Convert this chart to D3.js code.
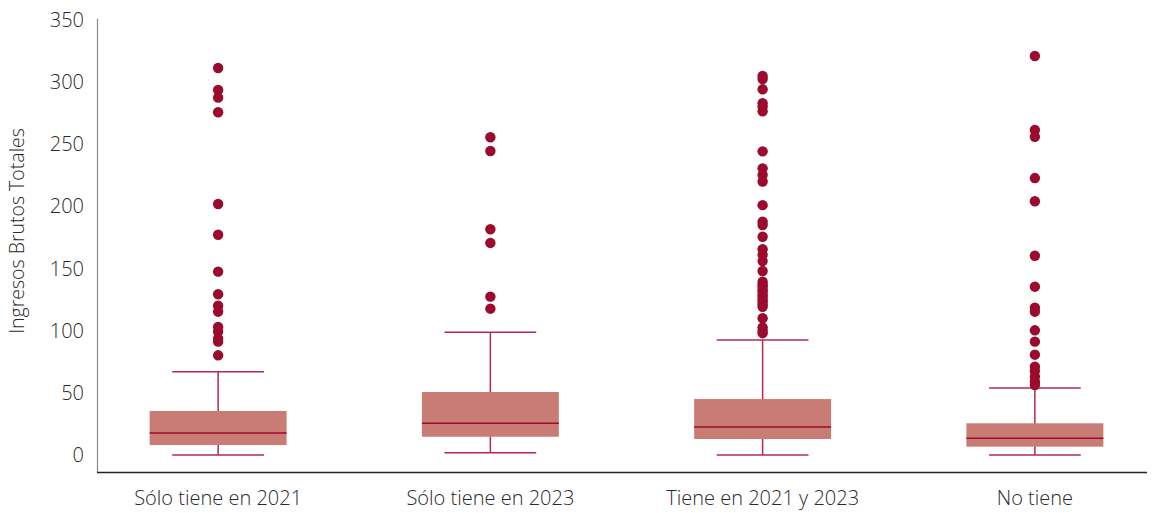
<!DOCTYPE html>
<html>
<head>
<meta charset="utf-8">
<script src="https://cdn.jsdelivr.net/npm/d3@7"></script>
<style>
  html, body { margin: 0; padding: 0; background: #fff; }
  svg { display: block; }
  text { font-family: "Open Sans", "Lato", sans-serif; font-weight: 300; fill: #2a2a2a; }
</style>
</head>
<body>
<svg id="chart" width="1152" height="513"></svg>
<script>
// Groups along the x axis
const categories = ["Sólo tiene en 2021", "Sólo tiene en 2023", "Tiene en 2021 y 2023", "No tiene"];

// Box statistics per group: lower whisker, Q1, median, Q3, upper whisker
const whiskerLow  = [0, 1.9, 0, 0];
const q1          = [8.0, 14.7, 12.9, 6.7];
const median      = [17.7, 25.5, 22.5, 13.4];
const q3          = [35.4, 50.7, 45.0, 25.5];
const whiskerHigh = [67.0, 98.7, 92.5, 54.0];

// Outlying values per group
const outliers2021 = [311.3, 293.6, 287.5, 275.7, 201.9, 177.2, 147.5, 129.3, 120.1, 115.3, 103, 99.2, 93.6, 91.2, 80.2];
const outliers2023 = [255.6, 244.6, 181.6, 170.6, 127.4, 117.7];
const outliersBoth = [305, 302.5, 294.2, 283, 280.2, 276.5, 244.3, 230.6, 225.3, 220, 201, 187.7, 185, 175.6,
                      165.5, 161, 156, 148, 139.4, 137, 135.4, 133, 131.4, 129, 127.4, 125, 123.3, 121, 119.3,
                      110, 102.7, 100, 98];
const outliersNone = [321, 261.5, 256, 222.8, 204.1, 160.3, 135.4, 118.5, 115.3, 100.3, 91.2, 80.7, 71, 67.6, 63, 59, 56.3];
const outliers = [outliers2021, outliers2023, outliersBoth, outliersNone];

// Y axis ticks
const yTicks = [0, 50, 100, 150, 200, 250, 300, 350];
const yTitle = "Ingresos Brutos Totales";

const svg = d3.select("#chart");

const x = d3.scalePoint().domain(categories).range([82, 1171]).padding(0.5);
const y = d3.scaleLinear().domain([-14, 351]).range([472.4, 18.7]);

const boxW = x.step() * 0.503;
const capW = boxW * 0.67;

const boxFill = "#c97c73";
const darkRed = "#9c0a2e";
const whiskerColor = "#b02a50";

// Axis lines
svg.append("line")
  .attr("x1", 97.5).attr("x2", 97.5)
  .attr("y1", y(351)).attr("y2", y(-14))
  .attr("stroke", "#8a8a8a").attr("stroke-width", 1.2);
svg.append("line")
  .attr("x1", 97).attr("x2", 1147)
  .attr("y1", 472.4).attr("y2", 472.4)
  .attr("stroke", "#222").attr("stroke-width", 1.5);

// Y tick labels
svg.append("g").selectAll("text").data(yTicks).join("text")
  .attr("x", 84)
  .attr("y", d => y(d))
  .attr("dy", "0.35em")
  .attr("text-anchor", "end")
  .style("font-size", "20px")
  .text(d => d);

// Y axis title
svg.append("text")
  .attr("transform", `translate(24,${231}) rotate(-90)`)
  .attr("text-anchor", "middle")
  .style("font-size", "19.5px")
  .text(yTitle);

// X labels
svg.append("g").selectAll("text").data(categories).join("text")
  .attr("x", d => x(d))
  .attr("y", 498)
  .attr("dy", "0.35em")
  .attr("text-anchor", "middle")
  .style("font-size", "20px")
  .text(d => d);

// Boxes
const groups = svg.append("g").selectAll("g").data(categories).join("g")
  .attr("transform", d => `translate(${x(d)},0)`);

// whisker stems
groups.append("line")
  .attr("x1", 0).attr("x2", 0)
  .attr("y1", (d, i) => y(whiskerLow[i])).attr("y2", (d, i) => y(whiskerHigh[i]))
  .attr("stroke", whiskerColor).attr("stroke-width", 1.5);
// caps
groups.selectAll("line.cap")
  .data((d, i) => [whiskerLow[i], whiskerHigh[i]])
  .join("line").attr("class", "cap")
  .attr("x1", -capW / 2).attr("x2", capW / 2)
  .attr("y1", v => y(v)).attr("y2", v => y(v))
  .attr("stroke", whiskerColor).attr("stroke-width", 1.5);
// box
groups.append("rect")
  .attr("x", -boxW / 2).attr("width", boxW)
  .attr("y", (d, i) => y(q3[i]))
  .attr("height", (d, i) => y(q1[i]) - y(q3[i]))
  .attr("fill", boxFill);
// median
groups.append("line")
  .attr("x1", -boxW / 2).attr("x2", boxW / 2)
  .attr("y1", (d, i) => y(median[i])).attr("y2", (d, i) => y(median[i]))
  .attr("stroke", darkRed).attr("stroke-width", 1.5);
// outliers
groups.selectAll("circle")
  .data((d, i) => outliers[i])
  .join("circle")
  .attr("cx", 0).attr("cy", v => y(v)).attr("r", 5.2)
  .attr("fill", darkRed);
</script>
</body>
</html>
